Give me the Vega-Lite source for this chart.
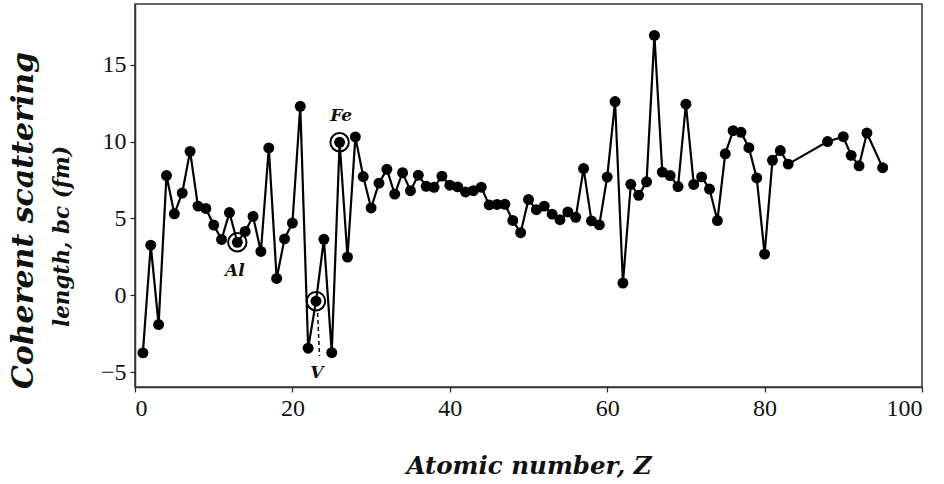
{
  "$schema": "https://vega.github.io/schema/vega-lite/v6.json",
  "width": 787,
  "height": 383,
  "autosize": {"type": "none"},
  "padding": {"left": 135, "top": 4, "right": 22, "bottom": 97},
  "background": "white",
  "config": {
    "view": {"stroke": "#333", "strokeWidth": 1.5},
    "axis": {"grid": false, "domainColor": "#333", "domainWidth": 1.5, "tickColor": "#222", "tickSize": 5, "tickWidth": 1.2,
      "labelFont": "Liberation Serif, Times New Roman, Times, serif", "labelFontSize": 24, "labelColor": "#111",
      "titleFont": "DejaVu Serif", "titleFontWeight": "bold", "titleFontStyle": "italic", "titleColor": "#111"}
  },
  "title": {"text": "Coherent scattering", "orient": "left", "font": "DejaVu Serif", "fontSize": 30, "fontWeight": "bold", "fontStyle": "italic", "color": "#111", "offset": 12, "anchor": "middle", "dx": -25},
  "datasets": {
    "main": [
      {"Z": 1, "b": -3.74}, {"Z": 2, "b": 3.26}, {"Z": 3, "b": -1.90}, {"Z": 4, "b": 7.79}, {"Z": 5, "b": 5.30},
      {"Z": 6, "b": 6.65}, {"Z": 7, "b": 9.36}, {"Z": 8, "b": 5.80}, {"Z": 9, "b": 5.65}, {"Z": 10, "b": 4.57},
      {"Z": 11, "b": 3.63}, {"Z": 12, "b": 5.38}, {"Z": 13, "b": 3.45}, {"Z": 14, "b": 4.15}, {"Z": 15, "b": 5.13},
      {"Z": 16, "b": 2.85}, {"Z": 17, "b": 9.58}, {"Z": 18, "b": 1.10}, {"Z": 19, "b": 3.67}, {"Z": 20, "b": 4.70},
      {"Z": 21, "b": 12.29}, {"Z": 22, "b": -3.44}, {"Z": 23, "b": -0.38}, {"Z": 24, "b": 3.64}, {"Z": 25, "b": -3.73},
      {"Z": 26, "b": 9.95}, {"Z": 27, "b": 2.49}, {"Z": 28, "b": 10.3}, {"Z": 29, "b": 7.72}, {"Z": 30, "b": 5.68},
      {"Z": 31, "b": 7.29}, {"Z": 32, "b": 8.19}, {"Z": 33, "b": 6.58}, {"Z": 34, "b": 7.97}, {"Z": 35, "b": 6.80},
      {"Z": 36, "b": 7.81}, {"Z": 37, "b": 7.09}, {"Z": 38, "b": 7.02}, {"Z": 39, "b": 7.75}, {"Z": 40, "b": 7.16},
      {"Z": 41, "b": 7.05}, {"Z": 42, "b": 6.72}, {"Z": 43, "b": 6.80}, {"Z": 44, "b": 7.03}, {"Z": 45, "b": 5.88},
      {"Z": 46, "b": 5.91}, {"Z": 47, "b": 5.92}, {"Z": 48, "b": 4.87}, {"Z": 49, "b": 4.07}, {"Z": 50, "b": 6.23},
      {"Z": 51, "b": 5.57}, {"Z": 52, "b": 5.80}, {"Z": 53, "b": 5.28}, {"Z": 54, "b": 4.92}, {"Z": 55, "b": 5.42},
      {"Z": 56, "b": 5.07}, {"Z": 57, "b": 8.24}, {"Z": 58, "b": 4.84}, {"Z": 59, "b": 4.58}, {"Z": 60, "b": 7.69},
      {"Z": 61, "b": 12.6}, {"Z": 62, "b": 0.80}, {"Z": 63, "b": 7.22}, {"Z": 64, "b": 6.50}, {"Z": 65, "b": 7.38},
      {"Z": 66, "b": 16.9}, {"Z": 67, "b": 8.01}, {"Z": 68, "b": 7.79}, {"Z": 69, "b": 7.07}, {"Z": 70, "b": 12.43},
      {"Z": 71, "b": 7.21}, {"Z": 72, "b": 7.70}, {"Z": 73, "b": 6.91}, {"Z": 74, "b": 4.86}, {"Z": 75, "b": 9.20},
      {"Z": 76, "b": 10.7}, {"Z": 77, "b": 10.6}, {"Z": 78, "b": 9.60}, {"Z": 79, "b": 7.63}, {"Z": 80, "b": 2.68},
      {"Z": 81, "b": 8.78}, {"Z": 82, "b": 9.41}, {"Z": 83, "b": 8.53}, {"Z": 88, "b": 10.0}, {"Z": 90, "b": 10.31},
      {"Z": 91, "b": 9.10}, {"Z": 92, "b": 8.42}, {"Z": 93, "b": 10.55}, {"Z": 95, "b": 8.30}
    ],
    "marked": [
      {"Z": 13, "b": 3.45, "label": "Al", "lz": 12.7, "lb": 1.55},
      {"Z": 23, "b": -0.38, "label": "V", "lz": 23.1, "lb": -5.05},
      {"Z": 26, "b": 9.95, "label": "Fe", "lz": 26.2, "lb": 11.65}
    ],
    "dash": [{"Z": 23.2, "b": -1.15, "Z2": 23.45, "b2": -3.95}]
  },
  "encoding": {
    "x": {"field": "Z", "type": "quantitative", "scale": {"domain": [0, 100], "nice": false},
      "axis": {"values": [0, 20, 40, 60, 80, 100], "title": "Atomic number, Z", "titleFontSize": 24.5, "titlePadding": 34, "labelPadding": 4}},
    "y": {"field": "b", "type": "quantitative", "scale": {"domain": [-5.96, 18.94], "nice": false, "zero": false},
      "axis": {"values": [-5, 0, 5, 10, 15], "title": "length, bc (fm)", "titleFontSize": 21.5, "labelPadding": 4, "titleX": -73, "titleY": 232, "titleBaseline": "middle", "titleAlign": "center", "titleAngle": -90}}
  },
  "layer": [
    {"data": {"name": "main"}, "mark": {"type": "line", "color": "black", "strokeWidth": 2.2}},
    {"data": {"name": "main"}, "mark": {"type": "point", "filled": true, "color": "black", "size": 120, "opacity": 1}},
    {"data": {"name": "marked"}, "mark": {"type": "point", "filled": false, "color": "black", "strokeWidth": 2, "size": 340, "opacity": 1}},
    {"data": {"name": "dash"}, "mark": {"type": "rule", "color": "black", "strokeWidth": 1.5, "strokeDash": [4, 3]},
      "encoding": {"x2": {"field": "Z2"}, "y2": {"field": "b2"}}},
    {"data": {"name": "marked"}, "mark": {"type": "text", "font": "DejaVu Serif", "fontSize": 17, "fontWeight": "bold", "fontStyle": "italic", "color": "#111", "baseline": "middle", "align": "center"},
      "encoding": {"x": {"field": "lz", "type": "quantitative"}, "y": {"field": "lb", "type": "quantitative"}, "text": {"field": "label"}}}
  ]
}
